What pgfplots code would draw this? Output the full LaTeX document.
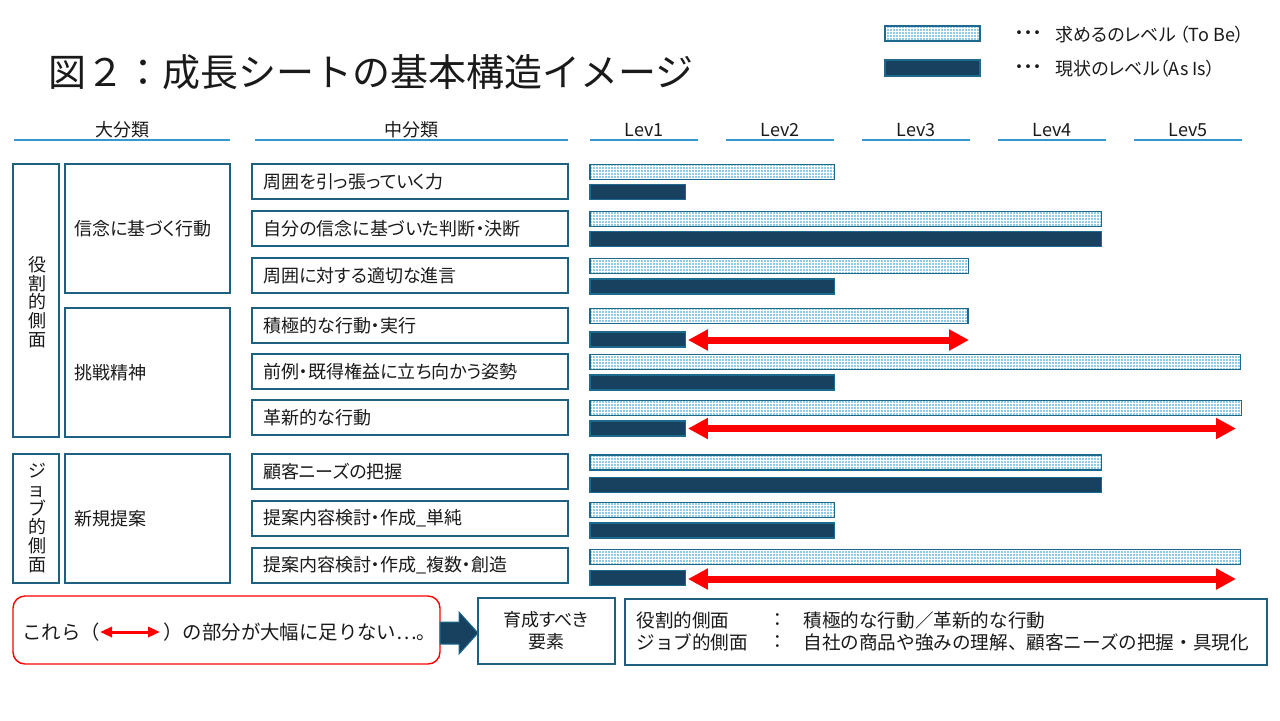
\documentclass[border=0pt]{standalone}
\usepackage{fontspec}
\setmainfont{Noto Sans CJK JP}[RawFeature=+palt]
\newfontfamily\fw{Noto Sans CJK JP}
\usepackage{pgfplots}
\pgfplotsset{compat=1.18}
\usetikzlibrary{patterns.meta,arrows.meta}
\definecolor{navy}{HTML}{17415F}
\definecolor{barborder}{HTML}{1D6A8E}
\definecolor{boxborder}{HTML}{1F5F80}
\definecolor{dotc}{HTML}{2596D0}
\definecolor{uline}{HTML}{3399CC}
\definecolor{txt}{HTML}{1A1A1A}
\newcommand{\bodyfont}{\fontsize{9pt}{10pt}\selectfont}
\begin{document}
\begin{tikzpicture}
\begin{scope}[x=0.5pt,y=-0.5pt,every node/.style={text=txt,inner sep=0pt,font=\bodyfont}]
\useasboundingbox[fill=white] (0,0) rectangle (1280,720);
% title
\node[anchor=west,font=\fw\fontsize{19pt}{24pt}\selectfont] at (48,72) {図２：成長シートの基本構造イメージ};
% legend
\draw[barborder,line width=0.6pt,pattern={Dots[distance=1.5pt,radius=0.45pt]},pattern color=dotc] (885,26) rectangle (980,41);
\draw[barborder,line width=0.6pt,fill=navy] (885,60) rectangle (980,76);
\node[anchor=west] at (1015,35) {・・・};
\node[anchor=west] at (1055,35) {求めるのレベル （To Be）};
\node[anchor=west] at (1015,69) {・・・};
\node[anchor=west] at (1055,69) {現状のレベル（As Is）};
% headers
\foreach \a/\b in {14/230,255/568,590/698,726/834,862/970,998/1106,1134/1242}
  \draw[uline,line width=0.7pt] (\a,140) -- (\b,140);
\node at (122,130) {大分類};
\node at (411,130) {中分類};
\node at (644,130) {Lev1};
\node at (780,130) {Lev2};
\node at (916,130) {Lev3};
\node at (1052,130) {Lev4};
\node at (1188,130) {Lev5};
% left boxes
\begin{scope}[boxborder,line width=0.75pt]
\draw (13,164) rectangle (59,437);
\draw (13,454) rectangle (59,583);
\draw (65,164) rectangle (230,293);
\draw (65,308) rectangle (230,437);
\draw (65,454) rectangle (230,583);
\foreach \t/\b in {164/199,211/246,258/293,308/343,354/389,400/435,454/489,501/536,548/583}
  \draw (252,\t) rectangle (568,\b);
\end{scope}
\node[align=center,font=\fontsize{9pt}{9.4pt}\selectfont] at (37,302) {役\\割\\的\\側\\面};
\node[align=center,font=\fontsize{9pt}{9.4pt}\selectfont] at (37,518) {ジ\\ョ\\ブ\\的\\側\\面};
\node[anchor=west] at (74,228.5) {信念に基づく行動};
\node[anchor=west] at (74,372.5) {挑戦精神};
\node[anchor=west] at (74,518.5) {新規提案};
\node[anchor=west] at (263,181.5) {周囲を引っ張っていく力};
\node[anchor=west] at (263,228.5) {自分の信念に基づいた判断・決断};
\node[anchor=west] at (263,275.5) {周囲に対する適切な進言};
\node[anchor=west] at (263,325.5) {積極的な行動・実行};
\node[anchor=west] at (263,371.5) {前例・既得権益に立ち向かう姿勢};
\node[anchor=west] at (263,417.5) {革新的な行動};
\node[anchor=west] at (263,471.5) {顧客ニーズの把握};
\node[anchor=west] at (263,518.5) {提案内容検討・作成\_単純};
\node[anchor=west] at (263,565.5) {提案内容検討・作成\_複数・創造};
% bottom
\draw[red,line width=0.7pt,rounded corners=6pt] (13,596) rectangle (440,664);
\node[anchor=west,font=\fw\fontsize{9.7pt}{11pt}\selectfont] at (22,632) {これら（};
\draw[red,line width=1.5pt,>={Triangle[length=6pt,width=5pt]},<->] (100,632) -- (160,632);
\node[anchor=west,font=\fw\fontsize{9.7pt}{11pt}\selectfont] at (163,632) {）の部分が大幅に足りない…。};
\draw[barborder,line width=0.5pt,fill=navy] (440,622) -- (459,622) -- (459,612) -- (478,633) -- (459,654) -- (459,644) -- (440,644) -- cycle;
\draw[boxborder,line width=0.75pt] (478,598) rectangle (615,664);
\node at (546,620) {育成すべき};
\node at (546,642) {要素};
\draw[boxborder,line width=0.75pt] (625,599) rectangle (1267,665);
\begin{scope}[every node/.append style={font=\fw\fontsize{9.3pt}{10pt}\selectfont}]
\node[anchor=west] at (636,620) {役割的側面};
\node at (778,620) {：};
\node[anchor=west] at (803,620) {積極的な行動／革新的な行動};
\node[anchor=west] at (636,642) {ジョブ的側面};
\node at (778,642) {：};
\node[anchor=west] at (803,642) {自社の商品や強みの理解、顧客ニーズの把握・具現化};
\end{scope}
\end{scope}
\begin{axis}[
  at={(465pt,-187.5pt)}, anchor=center,
  scale only axis, width=340pt, height=225pt,
  xmin=0, xmax=5, ymin=150, ymax=600, y dir=reverse,
  hide axis, clip=false]
% To Be (required level)
\addplot[xbar, bar shift=0pt, bar width=15, no markers, draw=barborder, line width=0.6pt,
  pattern={Dots[distance=1.5pt,radius=0.45pt]}, pattern color=dotc]
  coordinates {(1.80,171.8) (3.76,218.8) (2.785,265.8) (2.78,316.3) (4.785,361.8)
               (4.79,408.0) (3.76,462.5) (1.80,509.8) (4.785,557.2)};
% As Is (current level)
\addplot[xbar, bar shift=0pt, bar width=15, no markers, draw=barborder, line width=0.6pt, fill=navy]
  coordinates {(0.70,191.8) (3.76,239.3) (1.80,286.5) (0.70,339.5) (1.80,382.5)
               (0.70,428.5) (3.76,485.3) (1.80,530.5) (0.70,578.0)};
% gaps
\addplot[red, line width=3.5pt, no markers, >={Triangle[length=10pt,width=10pt]}, <->]
  coordinates {(0.72,340) (2.787,340)};
\addplot[red, line width=3.5pt, no markers, >={Triangle[length=10pt,width=10pt]}, <->]
  coordinates {(0.72,428.5) (4.75,428.5)};
\addplot[red, line width=3.5pt, no markers, >={Triangle[length=10pt,width=10pt]}, <->]
  coordinates {(0.72,579) (4.75,579)};
\end{axis}
\end{tikzpicture}
\end{document}
